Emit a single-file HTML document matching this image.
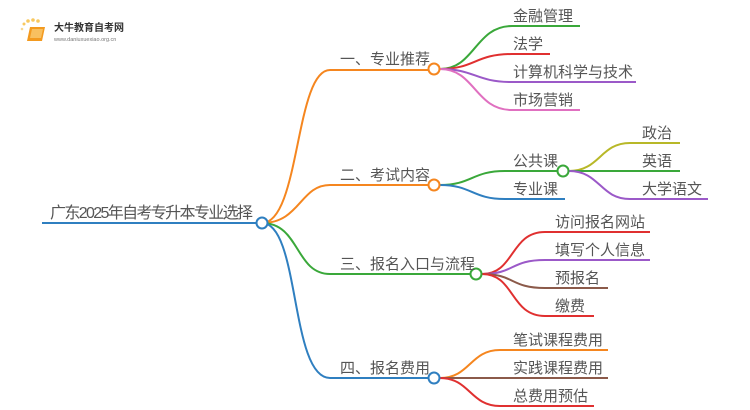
<!DOCTYPE html>
<html><head><meta charset="utf-8"><style>
html,body{margin:0;padding:0;background:#fff;}
svg{display:block;}
text{font-family:"Liberation Sans","Noto Sans CJK SC",sans-serif;fill:#555;}
</style></head><body>
<svg width="750" height="410" viewBox="0 0 750 410" xmlns="http://www.w3.org/2000/svg">
<!-- logo -->
<circle cx="24" cy="24" r="1.5" fill="#f8c860"/><circle cx="28" cy="21" r="1.8" fill="#f8c860"/><circle cx="33" cy="20" r="1.8" fill="#f8c860"/><circle cx="38" cy="21" r="1.8" fill="#f8c860"/><circle cx="22" cy="29" r="1.3" fill="#f8d890"/>
<path d="M30 27 L45 27 L42 41 L27 41 Z" fill="#f39a1f"/>
<path d="M32 29 L43 29 L41 38 L30 38 Z" fill="#f8c060"/>
<text x="54" y="31" font-size="10" style="fill:#333;font-weight:bold">大牛教育自考网</text>
<text x="54" y="41" font-size="5.5" style="fill:#777">www.daniuxuexiao.org.cn</text>

<g fill="none" stroke-width="2">
<!-- root -->
<line x1="42" y1="223" x2="256" y2="223" stroke="#2f7fc0"/>
<!-- branch curves -->
<path d="M262 223 C300 223 295 70 330 70 L428 70" stroke="#f5861f"/>
<path d="M262 223 C300 223 300 185 330 185 L428 185" stroke="#f5861f"/>
<path d="M262 223 C300 223 295 274 330 274 L470 274" stroke="#3aa83a"/>
<path d="M262 223 C300 223 290 378 330 378 L428 378" stroke="#2f7fc0"/>
<!-- branch1 children -->
<path d="M440 69 C475 69 475 26 512 26 L580 26" stroke="#3aa83a"/>
<path d="M440 69 C475 69 475 54 512 54 L550 54" stroke="#e03030"/>
<path d="M440 69 C475 69 475 82 512 82 L636 82" stroke="#9b59c8"/>
<path d="M440 69 C475 69 475 110 512 110 L580 110" stroke="#e070c0"/>
<!-- branch2 children -->
<path d="M440 185 C472 185 472 171 505 171 L557 171" stroke="#3aa83a"/>
<path d="M440 185 C472 185 472 199 505 199 L565 199" stroke="#2f7fc0"/>
<path d="M569 171 C600 171 600 143 630 143 L680 143" stroke="#b8b828"/>
<path d="M569 171 L680 171" stroke="#3aa83a"/>
<path d="M569 171 C600 171 600 199 630 199 L708 199" stroke="#9b59c8"/>
<!-- branch3 children -->
<path d="M482 274 C515 274 510 232 545 232 L650 232" stroke="#e03030"/>
<path d="M482 274 C515 274 510 260 545 260 L650 260" stroke="#9b59c8"/>
<path d="M482 274 C515 274 510 288 545 288 L608 288" stroke="#8b5a4a"/>
<path d="M482 274 C515 274 510 316 545 316 L594 316" stroke="#e03030"/>
<!-- branch4 children -->
<path d="M440 378 C470 378 470 350 500 350 L608 350" stroke="#f5861f"/>
<path d="M440 378 L608 378" stroke="#8b5a4a"/>
<path d="M440 378 C470 378 470 406 500 406 L594 406" stroke="#e03030"/>
</g>
<!-- nodes -->
<g fill="#fff" stroke-width="2">
<circle cx="262" cy="223" r="5.5" stroke="#2f7fc0"/>
<circle cx="434" cy="69" r="5.5" stroke="#f5861f"/>
<circle cx="434" cy="185" r="5.5" stroke="#f5861f"/>
<circle cx="476" cy="274" r="5.5" stroke="#3aa83a"/>
<circle cx="434" cy="378" r="5.5" stroke="#2f7fc0"/>
<circle cx="563" cy="171" r="5.5" stroke="#3aa83a"/>
</g>
<!-- labels -->
<text x="50" y="218" font-size="16" textLength="203">广东2025年自考专升本专业选择</text>
<text x="340" y="64" font-size="15">一、专业推荐</text>
<text x="340" y="180" font-size="15">二、考试内容</text>
<text x="340" y="269" font-size="15">三、报名入口与流程</text>
<text x="340" y="373" font-size="15">四、报名费用</text>
<g font-size="15">
<text x="513" y="21">金融管理</text>
<text x="513" y="49">法学</text>
<text x="513" y="77">计算机科学与技术</text>
<text x="513" y="105">市场营销</text>
<text x="513" y="166">公共课</text>
<text x="513" y="194">专业课</text>
<text x="642" y="138">政治</text>
<text x="642" y="166">英语</text>
<text x="642" y="194">大学语文</text>
<text x="555" y="227">访问报名网站</text>
<text x="555" y="255">填写个人信息</text>
<text x="555" y="283">预报名</text>
<text x="555" y="311">缴费</text>
<text x="513" y="345">笔试课程费用</text>
<text x="513" y="373">实践课程费用</text>
<text x="513" y="401">总费用预估</text>
</g>
</svg>
</body></html>
